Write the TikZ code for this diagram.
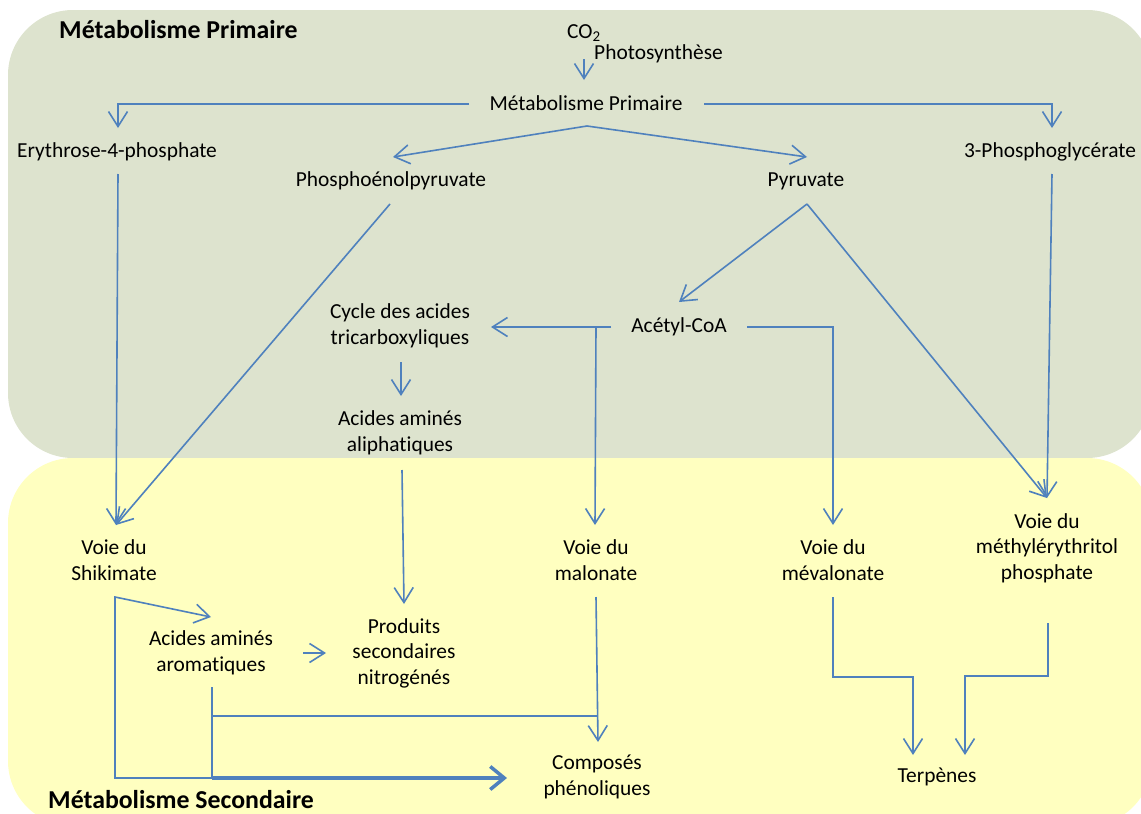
\documentclass[tikz,border=0pt]{standalone}
\usepackage{fontspec}
\setmainfont{Carlito}[Ligatures=NoCommon]
\usetikzlibrary{arrows.meta}
\definecolor{bgprim}{RGB}{221,227,206}
\definecolor{bgsec}{RGB}{255,255,192}
\definecolor{flow}{RGB}{79,129,189}
\tikzset{
  lbl/.style={align=center, inner sep=0pt, text=black, font=\fontsize{21.4}{25.5}\selectfont},
  zonetitle/.style={anchor=west, inner sep=0pt, text=black, font=\bfseries\fontsize{25.8}{30}\selectfont},
  flowline/.style={draw=flow, line width=1.6pt, line join=miter},
  arr/.style={flowline, -{Straight Barb[length=15pt,width=19pt]}},
  thickarr/.style={draw=flow, line width=3.5pt, -{Straight Barb[length=14pt,width=23pt]}}
}
\begin{document}
\begin{tikzpicture}[x=1pt,y=-1pt]
\useasboundingbox (0,0) rectangle (1141,814);
% zones
\fill[bgprim, rounded corners=65pt] (8,10) rectangle (1152,458);
\fill[bgsec, rounded corners=65pt] (8,458) rectangle (1152,826);
\node[zonetitle] (ttlprim) at (59,30) {Métabolisme Primaire};
\node[zonetitle] (ttlsec) at (48,800) {Métabolisme Secondaire};

% nodes
\node[lbl, anchor=west] (co2) at (567,33) {CO\textsubscript{2}};
\node[lbl, anchor=west] (photo) at (594,54) {Photosynthèse};
\node[lbl] (mp) at (586,103) {Métabolisme Primaire};
\node[lbl] (e4p) at (117,152) {Erythrose-4-phosphate};
\node[lbl] (pep) at (391,181) {Phosphoénolpyruvate};
\node[lbl] (pyr) at (806,181) {Pyruvate};
\node[lbl] (pg3) at (1050,152) {3-Phosphoglycérate};
\node[lbl] (acoa) at (679,327) {Acétyl-CoA};
\node[lbl] (tca) at (400,326) {Cycle des acides\\tricarboxyliques};
\node[lbl] (aliph) at (400,433) {Acides aminés\\aliphatiques};
\node[lbl] (shik) at (114,560) {Voie du\\Shikimate};
\node[lbl] (malo) at (596,560) {Voie du\\malonate};
\node[lbl] (meva) at (833,560) {Voie du\\mévalonate};
\node[lbl] (mep) at (1047,548) {Voie du\\méthylérythritol\\phosphate};
\node[lbl] (arom) at (211,653) {Acides aminés\\aromatiques};
\node[lbl] (prod) at (404,653) {Produits\\secondaires\\nitrogénés};
\node[lbl] (phen) at (597,777) {Composés\\phénoliques};
\node[lbl] (terp) at (937,777) {Terpènes};

% connector end points
\coordinate (co2out) at (584,59);
\coordinate (mpin) at (584,80);
\coordinate (mpw) at (469,104);
\coordinate (mpe) at (704,104);
\coordinate (mps) at (587,126);
\coordinate (e4pin) at (118,128);
\coordinate (pg3in) at (1052,128);
\coordinate (pepin) at (393,157);
\coordinate (pyrin) at (807,157);
\coordinate (e4pout) at (118,174);
\coordinate (pepout) at (390,204);
\coordinate (pyrout) at (807,204);
\coordinate (pg3out) at (1052,174);
\coordinate (shikin) at (116,525);
\coordinate (acoain) at (679,302);
\coordinate (mepin) at (1047,498);
\coordinate (acoaw) at (611,327);
\coordinate (acoae) at (747,327);
\coordinate (tcain) at (491,327);
\coordinate (acoajn) at (596,327);
\coordinate (maloin) at (595,525);
\coordinate (mevain) at (833,525);
\coordinate (tcaout) at (401,362);
\coordinate (aliphin) at (401,396);
\coordinate (aliphout) at (402,470);
\coordinate (prodin) at (404,604);
\coordinate (shikout) at (115,597);
\coordinate (aromin) at (211,617);
\coordinate (shikcorner) at (115,778);
\coordinate (aromout) at (212,687);
\coordinate (aromjn) at (212,716);
\coordinate (aromjoin) at (212,778);
\coordinate (phenleft) at (507,778);
\coordinate (aromright) at (303,653);
\coordinate (prodleft) at (326,653);
\coordinate (maloout) at (596,597);
\coordinate (malojn) at (598,716);
\coordinate (phenin) at (598,742);
\coordinate (mevaout) at (833,597);
\coordinate (mepout) at (1048,623);
\coordinate (terpinl) at (913,755);
\coordinate (terpinr) at (965,755);

% connectors
\draw[arr] (co2out) -- (mpin);
\draw[arr] (mpw) -| (e4pin);
\draw[arr] (mpe) -| (pg3in);
\draw[arr] (mps) -- (pepin);
\draw[arr] (mps) -- (pyrin);
\draw[arr] (e4pout) -- (shikin);
\draw[arr] (pepout) -- (shikin);
\draw[arr] (pyrout) -- (acoain);
\draw[arr] (pyrout) -- (mepin);
\draw[arr] (pg3out) -- (mepin);
\draw[arr] (acoaw) -- (tcain);
\draw[arr] (acoajn) -- (maloin);
\draw[arr] (acoae) -| (mevain);
\draw[arr] (tcaout) -- (aliphin);
\draw[arr] (aliphout) -- (prodin);
\draw[arr] (aromjoin) -- (shikcorner) -- (shikout) -- (aromin);
\draw[flowline] (aromout) -- (aromjoin);
\draw[flowline] (aromjn) -- (malojn);
\draw[thickarr] (aromjoin) -- (phenleft);
\draw[arr] (aromright) -- (prodleft);
\draw[arr] (maloout) -- (phenin);
\draw[arr] (mevaout) -- (833,677) -| (terpinl);
\draw[arr] (mepout) -- (1048,676) -| (terpinr);
\end{tikzpicture}
\end{document}
